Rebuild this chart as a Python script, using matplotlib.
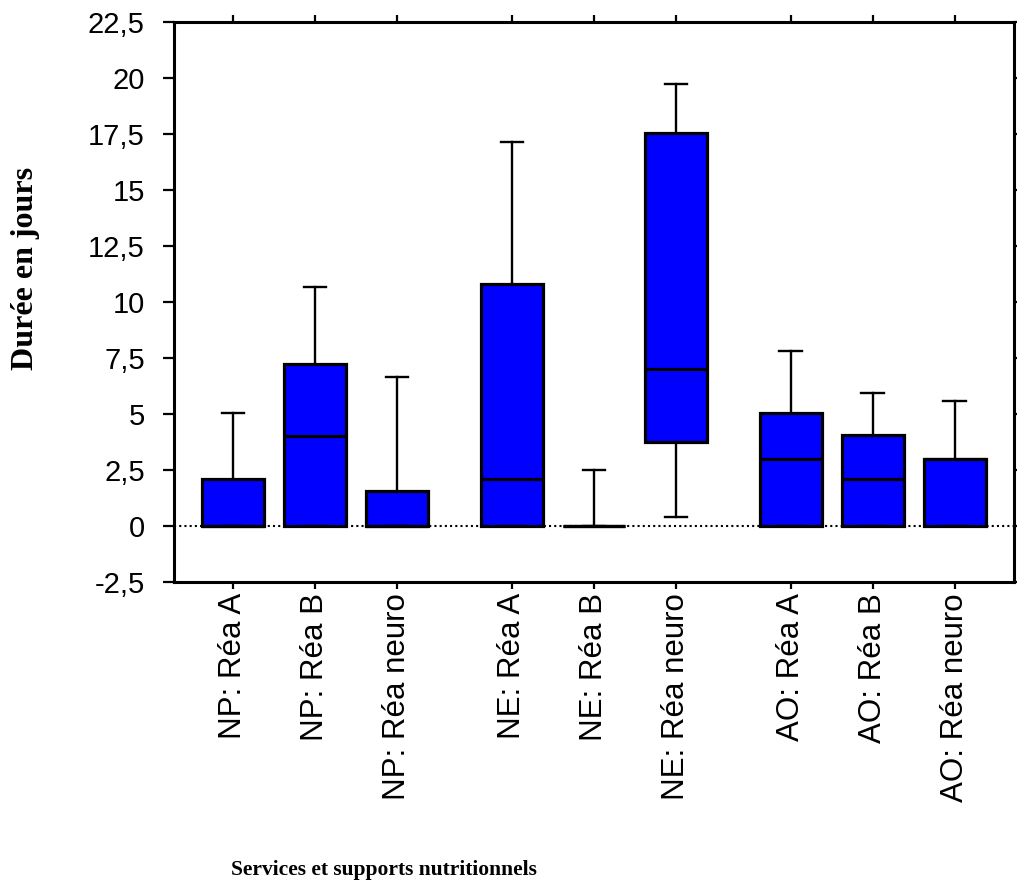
import numpy as np
import matplotlib
matplotlib.use("Agg")
import matplotlib.pyplot as plt

# services / nutritional support
labels = ["NP: Réa A", "NP: Réa B", "NP: Réa neuro",
          "NE: Réa A", "NE: Réa B", "NE: Réa neuro",
          "AO: Réa A", "AO: Réa B", "AO: Réa neuro"]
positions = [1, 2, 3, 4.4, 5.4, 6.4, 7.8, 8.8, 9.8]

# durations in days
whislo = [0, 0, 0, 0, 0, 0.4, 0, 0, 0]
q1 = [0, 0, 0, 0, 0, 3.75, 0, 0, 0]
med = [0, 4.0, 0, 2.1, 0, 7.0, 3.0, 2.1, 3.0]
q3 = [2.1, 7.25, 1.55, 10.8, 0, 17.55, 5.05, 4.05, 3.0]
whishi = [5.05, 10.65, 6.65, 17.15, 2.5, 19.75, 7.8, 5.95, 5.6]

yticks = [-2.5, 0, 2.5, 5, 7.5, 10, 12.5, 15, 17.5, 20, 22.5]
ytick_labels = ["-2,5", "0", "2,5", "5", "7,5", "10", "12,5", "15", "17,5", "20", "22,5"]

stats = []
for i in range(len(labels)):
    stats.append(dict(label=labels[i], whislo=whislo[i], q1=q1[i], med=med[i],
                      q3=q3[i], whishi=whishi[i], fliers=[]))

fig = plt.figure(figsize=(10.17, 8.89), dpi=100)
ax = fig.add_axes([0.1711, 0.3453, 0.997 - 0.1711, 0.9753 - 0.3453])

ax.axhline(0, color="black", linestyle=(0, (1, 1.5)), linewidth=1.5, zorder=1)

ax.bxp(stats, positions=positions, widths=0.756, capwidths=0.27,
       patch_artist=True, showfliers=False,
       boxprops=dict(facecolor="#0000ff", edgecolor="black", linewidth=2.3),
       medianprops=dict(color="black", linewidth=2.3),
       whiskerprops=dict(color="black", linewidth=1.7),
       capprops=dict(color="black", linewidth=1.7),
       zorder=2)

ax.set_xlim(0.28, 10.525)
ax.set_ylim(-2.5, 22.5)

ax.set_yticks(yticks)
ax.set_yticklabels(ytick_labels, fontfamily="Liberation Sans", fontsize=21)
ax.set_xticks(positions)
ax.set_xticklabels(labels, rotation=90, fontfamily="Liberation Sans", fontsize=22.5)

for s in ax.spines.values():
    s.set_linewidth(2.2)

ax.tick_params(axis="y", which="major", direction="out", length=8, width=1.6,
               pad=13, left=True, right=True, labelright=False)
ax.tick_params(axis="x", which="major", direction="out", length=5, width=1.6,
               pad=3, bottom=True, top=True, labeltop=False)

ax.set_ylabel("Durée en jours", fontfamily="Liberation Serif", fontweight="bold",
              fontsize=23)
ax.yaxis.set_label_coords(-0.16, 0.56)

fig.text(384 / 1017, 1 - 870 / 889, "Services et supports nutritionnels",
         fontfamily="Liberation Serif", fontweight="bold", fontsize=15.5,
         ha="center", va="center")

fig.savefig("out.png", dpi=100)
